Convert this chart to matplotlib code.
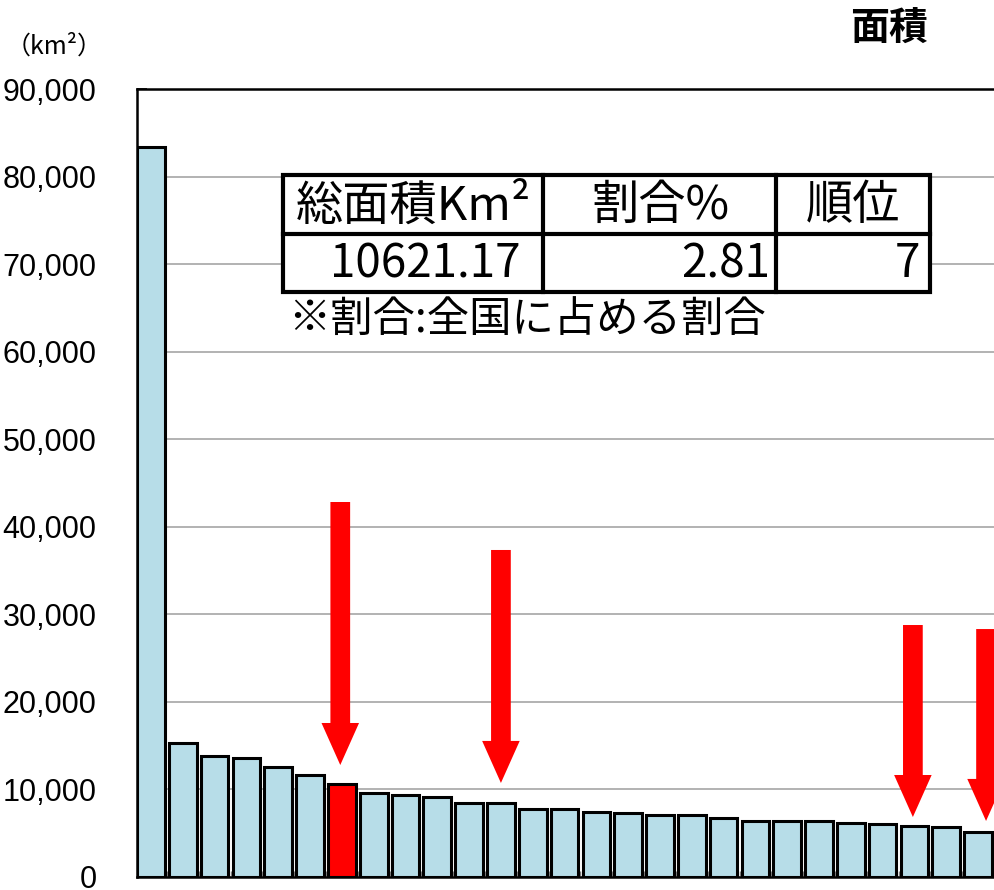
import matplotlib.pyplot as plt
from matplotlib.patches import Rectangle
from matplotlib.ticker import FuncFormatter, MultipleLocator

# 都道府県別 面積 (km2), 大きい順 (右側は図の外で切れている)
prefs = ["北海道", "岩手", "福島", "長野", "新潟", "秋田", "岐阜", "青森", "山形",
         "鹿児島", "広島", "兵庫", "静岡", "宮崎", "熊本", "宮城", "岡山", "高知",
         "島根", "栃木", "群馬", "大分", "山口", "茨城", "三重", "愛媛", "千葉"]
areas = [83424, 15275, 13784, 13562, 12584, 11638, 10621, 9646, 9323,
         9187, 8480, 8401, 7777, 7735, 7409, 7282, 7114, 7104,
         6708, 6408, 6362, 6341, 6112, 6097, 5774, 5676, 5157]
highlight = "岐阜"

# 表の中身
table_head = ["総面積Km²", "割合%", "順位"]
table_vals = ["10621.17", "2.81", "7"]
note = "※割合:全国に占める割合"

# 矢印 (x位置, 上端, 先端)
arrows_x = [5.95, 11.0, 23.95, 26.25]
arrows_top = [42830, 37350, 28780, 28320]
arrows_tip = [12790, 10740, 6850, 6400]

W, H = 994, 890
jp = ["Noto Sans CJK JP", "DejaVu Sans"]


def fx(px):
    return px / W


def fy(py):
    return 1 - py / H


fig = plt.figure(figsize=(W / 100, H / 100), dpi=100)
ax = fig.add_axes([fx(137), fy(877), fx(994 - 137), (877 - 89) / H])

colors = ["#ff0000" if p == highlight else "#b7dde8" for p in prefs]
ax.bar(range(len(prefs)), areas, width=0.87, color=colors,
       edgecolor="black", linewidth=2.2, zorder=3)

for x, top, tip in zip(arrows_x, arrows_top, arrows_tip):
    ax.arrow(x, top, 0, tip - top, width=0.62, head_width=1.18,
             head_length=4800, length_includes_head=True,
             color="#ff0000", linewidth=0, zorder=4)

ax.set_xlim(-0.44, 26.1)
ax.set_ylim(0, 90000)
ax.yaxis.set_major_locator(MultipleLocator(10000))
ax.yaxis.set_major_formatter(FuncFormatter(lambda v, p: f"{int(v):,}"))
ax.grid(axis="y", color="#a6a6a6", linewidth=1.2)
ax.set_axisbelow(True)
ax.set_xticks([])
ax.set_xticks([i + 0.5 for i in range(len(prefs))], minor=True)
ax.tick_params(axis="x", which="minor", direction="in", length=4,
               color="#808080", width=1)
ax.tick_params(axis="y", direction="in", length=7, width=1.2, pad=29,
               labelsize=22)
for lab in ax.get_yticklabels():
    lab.set_family("Liberation Sans")
    lab.set_va("center_baseline")
ax.spines["right"].set_visible(False)
for s in ["left", "bottom", "top"]:
    ax.spines[s].set_linewidth(1.8)

# 単位・タイトル
fig.text(fx(6), fy(47), "（km²）", family=jp, fontsize=18, va="center", ha="left")
fig.text(fx(889), fy(28), "面積", family=jp, fontsize=28, weight="bold",
         va="center", ha="center")

# 表
x0, x1, x2, x3 = 283, 543, 776, 930
y0, y1, y2 = 175, 234, 292
fig.patches.append(Rectangle((fx(x0), fy(y2)), fx(x3 - x0), (y2 - y0) / H,
                             transform=fig.transFigure, facecolor="white",
                             edgecolor="black", linewidth=3, zorder=5))
for xp in [x1, x2]:
    fig.add_artist(plt.Line2D([fx(xp), fx(xp)], [fy(y0), fy(y2)],
                              transform=fig.transFigure, color="black",
                              linewidth=3, zorder=6))
fig.add_artist(plt.Line2D([fx(x0), fx(x3)], [fy(y1), fy(y1)],
                          transform=fig.transFigure, color="black",
                          linewidth=3, zorder=6))

head_cx = [413, 660, 853]
for cx, t in zip(head_cx, table_head):
    fig.text(fx(cx), fy(206), t, family=jp, fontsize=34, ha="center",
             va="center", zorder=7)
val_rx = [520, 770, 920]
for rx, t in zip(val_rx, table_vals):
    fig.text(fx(rx), fy(264), t, family=jp, fontsize=33, ha="right",
             va="center", zorder=7)
fig.text(fx(288), fy(320), note, family=jp, fontsize=30.5, ha="left",
         va="center", zorder=7)

fig.savefig("out.png", dpi=100)
